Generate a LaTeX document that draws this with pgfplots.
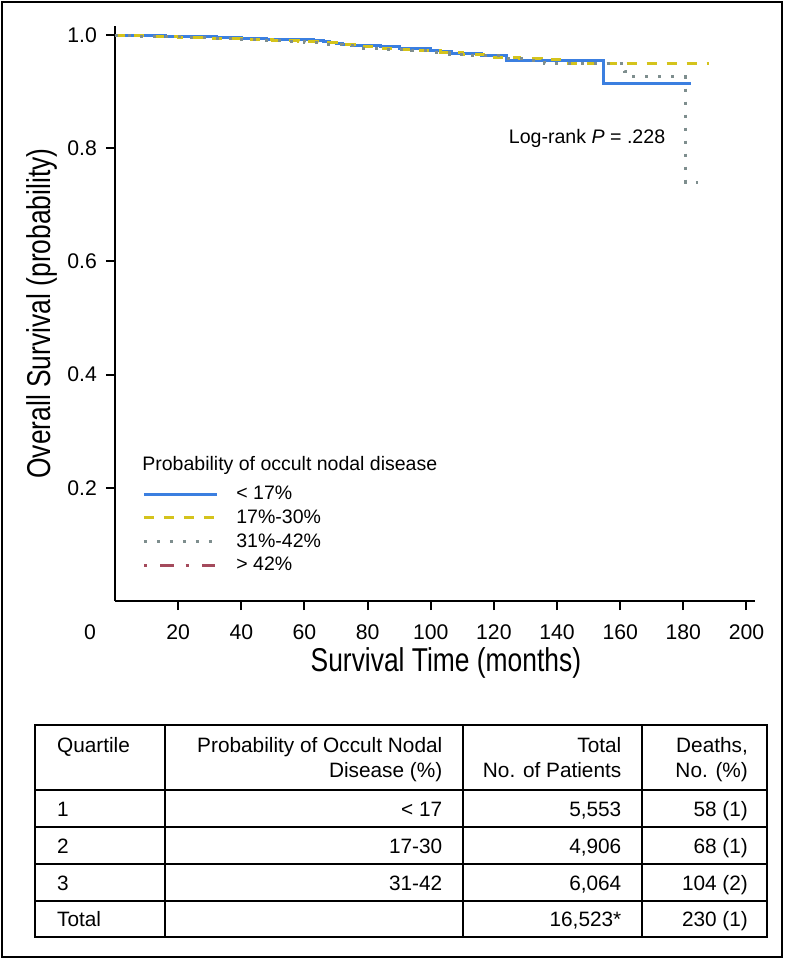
\documentclass[border=0pt]{standalone}
\usepackage{fontspec}
\setmainfont{Liberation Sans}
\newfontfamily\condfont[FakeStretch=0.8]{Liberation Sans}
\usepackage{pgfplots}
\pgfplotsset{compat=1.18}
\definecolor{kmblue}{HTML}{3B7FE0}
\definecolor{kmyellow}{HTML}{D4C31C}
\definecolor{kmgray}{HTML}{7E8E8E}
\definecolor{kmred}{HTML}{A44A5C}
\newcommand{\fs}[1]{\fontsize{#1}{#1}\selectfont}
\begin{document}
\begin{tikzpicture}
\path[use as bounding box] (0,0) rectangle (394.5pt,-479pt);
\begin{axis}[
  at={(57.5pt,-300.5pt)}, anchor=south west,
  scale only axis, width=320pt, height=287.5pt,
  xmin=0, xmax=202.7, ymin=0, ymax=1.016,
  clip mode=individual,
  axis x line*=bottom, axis y line*=left,
  axis line style={line width=1.2pt, -},
  tick align=outside, major tick length=4.5pt,
  tick style={line width=1pt, black},
  xtick={20,40,60,80,100,120,140,160,180,200},
  ytick={0.2,0.4,0.6,0.8,1.0},
  yticklabel style={xshift=-1pt, /pgf/number format/.cd, fixed, fixed zerofill, precision=1},
  /pgf/number format/assume math mode=true,
  ticklabel style={font=\fs{10.6pt}},
  xticklabel style={yshift=-4pt},
  xlabel={Survival Time (months)},
  ylabel={Overall Survival (probability)},
  label style={font=\condfont\fs{16.5pt}},
  xlabel style={at={(axis description cs:0.517,-0.108)}, anchor=center},
  ylabel style={at={(axis description cs:-0.114,0.5)}, anchor=center},
  legend style={at={(axis cs:8.55,0.2063)}, anchor=north west, draw=none, fill=none,
    font=\fs{9.75pt}, inner sep=0pt, /tikz/row sep=2.35pt, /tikz/column sep=9pt,
    nodes={inner sep=0pt, text height=7.5pt, text depth=2pt}},
  legend cell align=left,
  legend image code/.code={\draw[#1] (0pt,0pt) -- (36.5pt,0pt);},
  const plot,
]
\addplot[kmblue, line width=1.5pt] coordinates {
(0,1.0) (8,0.999) (16,0.998) (24,0.997) (32,0.995) (40,0.994) (48,0.993) (56,0.992)
(63,0.991) (66,0.989) (68,0.987) (70,0.985) (72,0.983) (75,0.981) (84,0.979) (90,0.977)
(95,0.976) (100,0.973) (103,0.971) (106.6,0.968) (116,0.963) (124,0.955) (154.6,0.915) (182.3,0.915)};
\addlegendentry{< 17\%}
\addplot[kmyellow, line width=1.5pt, dash pattern=on 5pt off 5pt] coordinates {
(0,1.0) (5,0.999) (12,0.998) (20,0.996) (30,0.994) (40,0.992) (50,0.990) (58,0.988)
(64,0.986) (70,0.983) (76,0.979) (82,0.977) (90,0.974) (96,0.972) (103,0.970) (110,0.965)
(118,0.961) (128,0.959) (135,0.957) (142,0.950) (188,0.950)};
\addlegendentry{17\%-30\%}
\addplot[kmgray, line width=1.5pt, dash pattern=on 1.5pt off 5pt] coordinates {
(0,1.0) (6,0.998) (14,0.997) (22,0.995) (30,0.994) (38,0.992) (46,0.990) (54,0.988)
(60,0.986) (66,0.984) (72,0.981) (78,0.977) (86,0.975) (94,0.972) (100,0.969) (106,0.966)
(112,0.963) (122,0.958) (130,0.955) (136,0.950) (161.5,0.935) (163.6,0.926) (180.7,0.740) (184.7,0.740)};
\addlegendentry{31\%-42\%}
\addlegendimage{kmred, line width=1.5pt, dash pattern=on 1.7pt off 6.5pt on 6.7pt off 6pt}
\addlegendentry{> 42\%}
\node[font=\fs{9.8pt}] at (axis cs:149.5,0.818) {Log-rank \textit{P} = .228};
\node[anchor=west, font=\fs{9.75pt}, inner sep=0pt] at (axis cs:8.55,0.2395) {Probability of occult nodal disease};
\node[font=\fs{10.6pt}, xshift=-12.5pt, yshift=-15.5pt] at (axis cs:0,0) {0};
\end{axis}
\begin{scope}[x=0.5pt, y=-0.5pt]
\draw[line width=1pt] (2,2) rectangle (782,957);
\draw[line width=1pt] (35,725) rectangle (766.7,937.3);
\foreach \yy in {790,827.3,864.3,901} \draw[line width=1pt] (35,\yy) -- (766.7,\yy);
\foreach \xx in {165,463.3,641.7} \draw[line width=1pt] (\xx,725) -- (\xx,937.3);
\begin{scope}[every node/.style={inner sep=0pt, font=\fs{10.4pt}}]
\node[anchor=base west] at (56.7,752.5) {Quartile};
\node[anchor=base east] at (442.7,752.5) {Probability of Occult Nodal};
\node[anchor=base east] at (442.7,777.5) {Disease (\%)};
\node[anchor=base east] at (621.7,752.5) {Total};
\node[anchor=base east] at (621.7,777.5) {No. of Patients};
\node[anchor=base east] at (748.3,752.5) {Deaths,};
\node[anchor=base east] at (748.3,777.5) {No. (\%)};
\node[anchor=base west] at (56.7,816) {1};
\node[anchor=base east] at (442.7,816) {< 17};
\node[anchor=base east] at (621.7,816) {5,553};
\node[anchor=base east] at (748.3,816) {58 (1)};
\node[anchor=base west] at (56.7,853.3) {2};
\node[anchor=base east] at (442.7,853.3) {17-30};
\node[anchor=base east] at (621.7,853.3) {4,906};
\node[anchor=base east] at (748.3,853.3) {68 (1)};
\node[anchor=base west] at (56.7,890.2) {3};
\node[anchor=base east] at (442.7,890.2) {31-42};
\node[anchor=base east] at (621.7,890.2) {6,064};
\node[anchor=base east] at (748.3,890.2) {104 (2)};
\node[anchor=base west] at (56.7,926.7) {Total};
\node[anchor=base east] at (621.7,926.7) {16,523*};
\node[anchor=base east] at (748.3,926.7) {230 (1)};
\end{scope}
\end{scope}
\end{tikzpicture}
\end{document}
